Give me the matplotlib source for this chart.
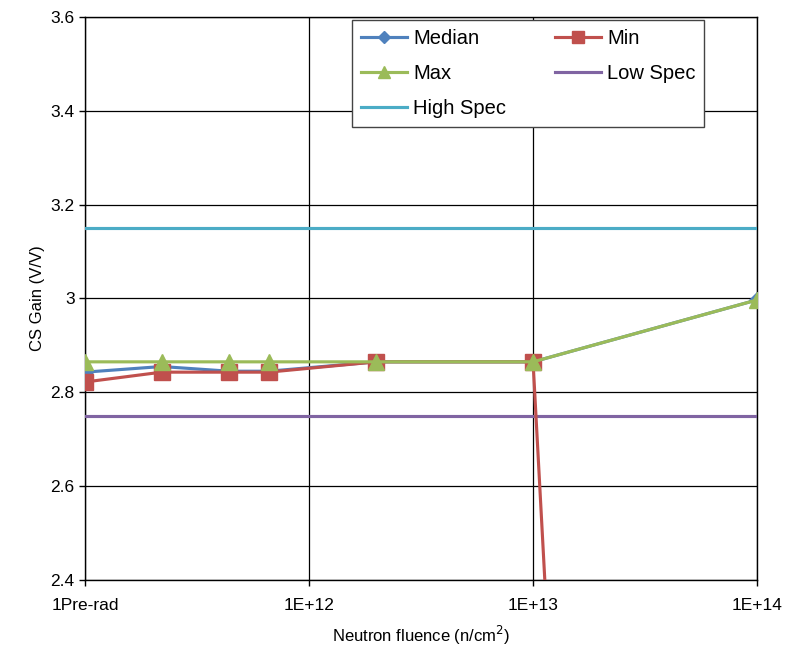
import numpy as np
import matplotlib.pyplot as plt

plt.rcParams['font.family'] = ['Liberation Sans', 'DejaVu Sans']

# neutron fluence (n/cm2); 1e11 stands for the pre-rad point
fluence = [1e11, 2.2e11, 4.4e11, 6.6e11, 2e12, 1e13, 1e14]
median = [2.843, 2.855, 2.845, 2.845, 2.865, 2.865, 2.997]
min_gain = [2.822, 2.843, 2.843, 2.843, 2.865, 2.865, -6.0]
max_gain = [2.865, 2.865, 2.865, 2.865, 2.865, 2.865, 2.997]
low_spec = 2.75
high_spec = 3.15

xticks = [1e11, 1e12, 1e13, 1e14]
xtick_labels = ['1Pre-rad', '1E+12', '1E+13', '1E+14']

fig = plt.figure(figsize=(7.87, 6.52), dpi=100)
ax = fig.add_axes([0.108, 0.1104, 0.854, 0.8636])

h_med, = ax.plot(fluence, median, color='#4F81BD', lw=2.25, marker='D', ms=8, label='Median', zorder=3)
h_min, = ax.plot(fluence, min_gain, color='#C0504D', lw=2.25, marker='s', ms=11, label='Min', zorder=4)
h_max, = ax.plot(fluence, max_gain, color='#9BBB59', lw=2.25, marker='^', ms=12, label='Max', zorder=5)
h_low, = ax.plot([fluence[0], fluence[-1]], [low_spec, low_spec], color='#8064A2', lw=2.25, label='Low Spec', zorder=3)
h_high, = ax.plot([fluence[0], fluence[-1]], [high_spec, high_spec], color='#4BACC6', lw=2.25, label='High Spec', zorder=3)

ax.set_xscale('log')
ax.set_xlim(1e11, 1e14)
ax.set_ylim(2.4, 3.6)
ax.set_xticks(xticks)
ax.set_xticklabels(xtick_labels)
ax.xaxis.set_minor_locator(plt.NullLocator())
ax.set_yticks(np.arange(2.4, 3.61, 0.2))
ax.set_yticklabels(['2.4', '2.6', '2.8', '3', '3.2', '3.4', '3.6'])
ax.tick_params(labelsize=12.5, length=4, width=1, color='black')
ax.tick_params(axis='x', pad=9)
ax.grid(True, color='black', lw=0.9)
ax.set_axisbelow(True)
for s in ax.spines.values():
    s.set_color('black')
    s.set_linewidth(1)

ax.set_xlabel('Neutron fluence (n/cm$^2$)', fontsize=12, labelpad=8)
ax.set_ylabel('CS Gain (V/V)', fontsize=12)

# row-wise order like the original: Median, Min / Max, Low Spec / High Spec
handles = [h_med, h_max, h_high, h_min, h_low]
labels = [h.get_label() for h in handles]
leg = ax.legend(handles, labels, ncol=2, loc='upper left', bbox_to_anchor=(0.397, 0.995),
                borderaxespad=0, fontsize=14.5, frameon=True, fancybox=False,
                edgecolor='#444444', framealpha=1, handlelength=2.3, handletextpad=0.3,
                columnspacing=2.4, borderpad=0.45, labelspacing=0.8, markerscale=0.75)
leg.get_frame().set_linewidth(1)

fig.savefig('out.png', dpi=100)
